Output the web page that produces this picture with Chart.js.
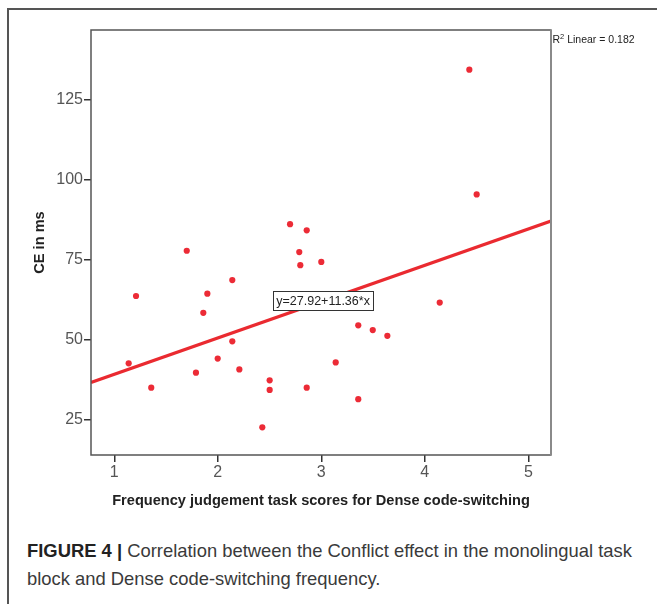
<!DOCTYPE html>
<html><head><meta charset="utf-8">
<script src="https://cdn.jsdelivr.net/npm/chart.js@4"></script>
<style>
html,body{margin:0;padding:0;background:#fff;width:657px;height:604px;overflow:hidden;}
#frame{position:absolute;left:7px;top:8px;width:700px;height:700px;border-left:2px solid #555;border-top:2px solid #555;}
#wrap{position:absolute;left:0;top:0;width:657px;height:520px;}
#cap{position:absolute;left:27px;top:537px;width:628px;font-family:"Liberation Sans",Arial,sans-serif;font-size:18.4px;line-height:28px;color:#3a3a3a;white-space:nowrap;}
#cap b{color:#222;}
</style>
</head>
<body>
<div id="frame"></div>
<div id="wrap"><canvas id="c" width="657" height="520"></canvas></div>
<div id="cap"><b>FIGURE 4 |</b> Correlation between the Conflict effect in the monolingual task<br>block and Dense code-switching frequency.</div>
<script>
// Data
const xValues = [2.698, 2.859, 1.700, 2.787, 2.797, 3.000, 2.140, 1.210, 1.899, 1.860,
                 2.140, 1.139, 1.999, 2.208, 1.789, 1.357, 2.501, 2.501, 2.859, 2.430,
                 3.139, 4.144, 3.357, 3.497, 3.638, 3.357, 4.430, 4.501];
const yValues = [86.2, 84.3, 77.9, 77.5, 73.4, 74.4, 68.75, 63.75, 64.5, 58.5,
                 49.6, 42.7, 44.2, 40.8, 39.8, 35.1, 37.4, 34.4, 35.1, 22.7,
                 43.0, 61.7, 54.6, 53.1, 51.3, 31.5, 134.5, 95.5];
const xTicks = [1, 2, 3, 4, 5];
const yTicks = [25, 50, 75, 100, 125];
const xRange = [0.775, 5.219];
const yRange = [14.06, 146.9];
const fitX = [0.775, 5.219];
const fitY = [36.72, 87.21];
const equationText = 'y=27.92+11.36*x';
const equationAnchor = [2.536, 62.2];
const r2Parts = ['R', '2', ' Linear = 0.182'];
const xTitle = 'Frequency judgement task scores for Dense code-switching';
const yTitle = 'CE in ms';

const FONT = '"Liberation Sans", Arial, sans-serif';

const extras = {
  id: 'extras',
  afterDraw(chart) {
    const ctx = chart.ctx;
    const a = chart.chartArea;
    const xs = chart.scales.x, ys = chart.scales.y;
    ctx.save();
    // plot frame
    ctx.strokeStyle = '#555';
    ctx.lineWidth = 1.5;
    ctx.beginPath();
    ctx.moveTo(a.right, a.top); ctx.lineTo(a.left, a.top);
    ctx.lineTo(a.left, a.bottom); ctx.lineTo(a.right, a.bottom);
    ctx.stroke();
    ctx.strokeStyle = '#8a8a8a';
    ctx.lineWidth = 2;
    ctx.beginPath();
    ctx.moveTo(a.right, a.top - 0.75); ctx.lineTo(a.right, a.bottom + 0.75);
    ctx.stroke();
    // equation box
    const ex = xs.getPixelForValue(equationAnchor[0]);
    const ey = ys.getPixelForValue(equationAnchor[1]);
    ctx.font = '12.5px ' + FONT;
    const w = ctx.measureText(equationText).width + 6;
    ctx.fillStyle = '#fff';
    ctx.fillRect(ex, ey - 9.5, w, 19);
    ctx.strokeStyle = '#333';
    ctx.lineWidth = 1;
    ctx.strokeRect(Math.round(ex) + 0.5, Math.round(ey - 9.5) + 0.5, Math.round(w), 19);
    ctx.fillStyle = '#222';
    ctx.textBaseline = 'middle';
    ctx.textAlign = 'left';
    ctx.fillText(equationText, ex + 3, ey + 0.5);
    // R2 label
    let rx = a.right + 1.5;
    const ry = a.top + 13;
    ctx.textBaseline = 'alphabetic';
    ctx.font = '10.5px ' + FONT;
    ctx.fillText(r2Parts[0], rx, ry);
    rx += ctx.measureText(r2Parts[0]).width;
    ctx.font = '7.5px ' + FONT;
    ctx.fillText(r2Parts[1], rx, ry - 4.5);
    rx += ctx.measureText(r2Parts[1]).width;
    ctx.font = '10.5px ' + FONT;
    ctx.fillText(r2Parts[2], rx, ry);
    ctx.restore();
  }
};

new Chart(document.getElementById('c'), {
  type: 'scatter',
  data: {
    datasets: [
      {
        data: xValues.map((x, i) => ({x: x, y: yValues[i]})),
        backgroundColor: '#ec2b36',
        borderColor: '#ec2b36',
        pointRadius: 3.1,
        pointBorderWidth: 0,
        showLine: false
      },
      {
        type: 'line',
        data: fitX.map((x, i) => ({x: x, y: fitY[i]})),
        borderColor: '#ea2a30',
        borderWidth: 3.2,
        pointRadius: 0,
        fill: false
      }
    ]
  },
  options: {
    responsive: false,
    animation: false,
    layout: {padding: {left: 0, right: 106, top: 30, bottom: 0}},
    plugins: {legend: {display: false}, tooltip: {enabled: false}},
    scales: {
      x: {
        type: 'linear',
        min: xRange[0], max: xRange[1],
        afterFit: s => { s.height = 65; },
        afterBuildTicks: s => { s.ticks = xTicks.map(v => ({value: v})); },
        grid: {drawOnChartArea: false, drawTicks: true, tickLength: 7, color: '#333', lineWidth: 1.5},
        border: {display: false},
        ticks: {padding: 1, color: '#555', font: {family: FONT, size: 16}, maxRotation: 0},
        title: {display: true, text: xTitle, color: '#222', font: {family: FONT, size: 14.6, weight: 'bold'}, padding: {top: 0, bottom: 10}}
      },
      y: {
        type: 'linear',
        min: yRange[0], max: yRange[1],
        afterFit: s => { s.width = 91; },
        afterBuildTicks: s => { s.ticks = yTicks.map(v => ({value: v})); },
        grid: {drawOnChartArea: false, drawTicks: true, tickLength: 7, color: '#333', lineWidth: 1.5},
        border: {display: false},
        ticks: {padding: 1, color: '#555', font: {family: FONT, size: 16}},
        title: {display: true, text: yTitle, color: '#222', font: {family: FONT, size: 14.6, weight: 'bold'}, padding: {top: 31, bottom: 0}}
      }
    }
  },
  plugins: [extras]
});
</script>
</body></html>
